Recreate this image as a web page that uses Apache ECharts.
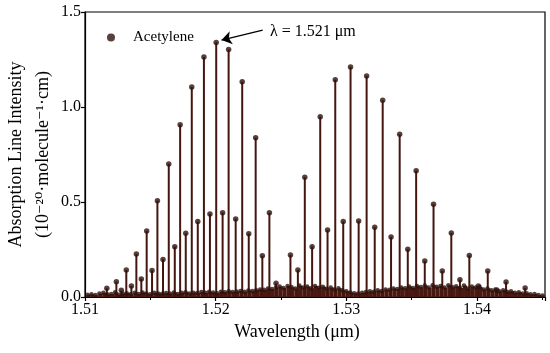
<!DOCTYPE html>
<html><head><meta charset="utf-8">
<script src="https://cdn.jsdelivr.net/npm/echarts@6/dist/echarts.min.js"></script>
<style>html,body{margin:0;padding:0;background:#fff}#c{width:550px;height:353px}</style>
</head><body><div id="c"></div>
<script>
// Strong lines (R and P branches) : wavelength (µm) and intensity (1e-20 molecule^-1 cm)
const mainWavelength = [
  1.51167,1.51240,1.51278,1.51316,1.51355,1.51393,1.51431,1.51472,1.51513,1.51554,
  1.51597,1.51641,1.51687,1.51728,1.51771,1.51817,1.51863,1.51910,1.51956,1.52004,
  1.52053,1.52099,1.52153,1.52203,1.52253,1.52306,1.52357,1.52411,1.52462,
  1.52572,1.52629,1.52682,1.52738,1.52800,1.52856,1.52915,1.52976,1.53032,1.53094,
  1.53155,1.53217,1.53278,1.53342,1.53408,1.53470,1.53534,1.53600,1.53667,1.53734,
  1.53803,1.53869,1.53941,1.54010,1.54082,1.54151,1.54222,1.54368
];
const mainIntensity = [
  0.046,0.080,0.035,0.142,0.058,0.226,0.095,0.347,0.140,0.507,
  0.198,0.700,0.265,0.907,0.335,1.105,0.397,1.263,0.437,1.340,
  0.444,1.302,0.410,1.133,0.333,0.838,0.217,0.444,0.072,
  0.221,0.142,0.630,0.265,0.949,0.353,1.144,0.397,1.211,0.400,
  1.163,0.367,1.035,0.316,0.856,0.251,0.665,0.189,0.488,0.137,
  0.337,0.091,0.219,0.058,0.137,0.037,0.079,0.047
];
// Weak (hot band) lines near the baseline
const weakWavelength = [
  1.5102,1.5105,1.5108,1.5111,1.5114,1.5117,1.5120,1.5123,1.5126,1.5129,
  1.5132,1.5135,1.5138,1.5141,1.5144,1.5147,1.5150,1.5153,1.5156,1.5159,
  1.5162,1.5165,1.5168,1.5171,1.5174,1.5177,1.5180,1.5183,1.5186,1.5189,
  1.5192,1.5195,1.5198,1.5201,1.5204,1.5207,1.5210,1.5213,1.5216,1.5219,
  1.5222,1.5225,1.5228,1.5231,1.5234,1.5237,1.5240,1.5243,1.5246,1.5249,
  1.5252,1.5255,1.5258,1.5261,1.5264,1.5267,1.5270,1.5273,1.5276,1.5279,
  1.5282,1.5285,1.5288,1.5291,1.5294,1.5297,1.5300,1.5303,1.5306,1.5309,
  1.5312,1.5315,1.5318,1.5321,1.5324,1.5327,1.5330,1.5333,1.5336,1.5339,
  1.5342,1.5345,1.5348,1.5351,1.5354,1.5357,1.5360,1.5363,1.5366,1.5369,
  1.5372,1.5375,1.5378,1.5381,1.5384,1.5387,1.5390,1.5393,1.5396,1.5399,
  1.5402,1.5405,1.5408,1.5411,1.5414,1.5417,1.5420,1.5423,1.5426,1.5429,
  1.5432,1.5435,1.5438,1.5441,1.5444,1.5447,1.5450
];
const weakIntensity = [
  0.012,0.015,0.010,0.018,0.022,0.014,0.016,0.025,0.012,0.018,
  0.020,0.014,0.022,0.016,0.024,0.018,0.015,0.022,0.019,0.017,
  0.021,0.018,0.024,0.016,0.022,0.025,0.019,0.023,0.021,0.026,
  0.022,0.027,0.024,0.020,0.028,0.025,0.030,0.026,0.029,0.032,
  0.028,0.034,0.031,0.036,0.040,0.038,0.045,0.042,0.050,0.055,
  0.048,0.058,0.052,0.045,0.060,0.050,0.055,0.046,0.058,0.049,
  0.054,0.044,0.050,0.040,0.046,0.035,0.030,0.024,0.020,0.018,
  0.022,0.026,0.030,0.028,0.035,0.032,0.040,0.038,0.045,0.042,
  0.050,0.046,0.055,0.048,0.058,0.052,0.060,0.050,0.062,0.054,
  0.058,0.050,0.062,0.052,0.056,0.048,0.060,0.045,0.055,0.050,
  0.052,0.040,0.045,0.035,0.040,0.030,0.036,0.028,0.030,0.022,
  0.025,0.018,0.020,0.014,0.016,0.010,0.008
];
const seriesName = 'Acetylene';
const annotationText = 'λ = 1.521 μm';
const arrowStart = [1.52360, 1.405];
const arrowEnd = [1.52045, 1.352];

const zip = (a, b) => a.map((x, i) => [x, b[i]]);
const mainData = zip(mainWavelength, mainIntensity);
const weakData = zip(weakWavelength, weakIntensity);

const serif = "'Liberation Serif','DejaVu Serif','Times New Roman',serif";
const stemColor = '#45160f';
const bandColor = '#4a1a12';
const dotColor = '#2e120d';

const chart = echarts.init(document.getElementById('c'), null, {renderer: 'canvas'});
chart.setOption({
  animation: false,
  backgroundColor: '#fff',
  textStyle: {fontFamily: serif},
  grid: {left: 85, right: 5, top: 12, bottom: 56, containLabel: false, outerBoundsMode: 'none',
         show: true, borderColor: '#000', borderWidth: 1.2, backgroundColor: 'transparent'},
  legend: {
    left: 102, top: 25, itemWidth: 8, itemHeight: 8, icon: 'circle',
    data: [seriesName],
    textStyle: {fontFamily: serif, fontSize: 15, color: '#000', padding: [0, 0, 0, 13]}
  },
  graphic: [{
    type: 'text', left: 270, top: 24,
    style: {text: annotationText, font: '16px ' + serif, fill: '#000'}
  }],
  xAxis: {
    type: 'value', min: 1.51, max: 1.5452, interval: 0.01,
    name: 'Wavelength (μm)', nameLocation: 'middle', nameGap: 26, nameMoveOverlap: false,
    nameTextStyle: {fontFamily: serif, fontSize: 18, color: '#000', padding: [0, 36, 0, 0]},
    axisLine: {onZero: false, lineStyle: {color: '#000', width: 1.2}},
    axisTick: {show: true, inside: false, length: 4, lineStyle: {color: '#000', width: 1.2}},
    minorTick: {show: true, splitNumber: 2, length: 3, lineStyle: {color: '#000', width: 1}},
    axisLabel: {fontFamily: serif, fontSize: 16, color: '#000', margin: 5, showMaxLabel: false,
                formatter: v => v.toFixed(2)},
    splitLine: {show: false}
  },
  yAxis: {
    type: 'value', min: 0, max: 1.5, interval: 0.5,
    name: 'Absorption Line Intensity\n(10⁻²⁰·molecule⁻¹·cm)', nameLocation: 'middle', nameGap: 28, nameRotate: 90,
    nameMoveOverlap: false,
    nameTextStyle: {fontFamily: serif, fontSize: 18, color: '#000', lineHeight: 27, align: 'center'},
    axisLine: {lineStyle: {color: '#000', width: 1.2}},
    axisTick: {show: true, inside: false, length: 4, lineStyle: {color: '#000', width: 1.2}},
    axisLabel: {fontFamily: serif, fontSize: 16, color: '#000', margin: 4, formatter: v => v.toFixed(1)},
    splitLine: {show: false}
  },
  series: [
    {
      type: 'bar', name: 'weakStems', data: weakData, barWidth: 4, barGap: '-100%',
      itemStyle: {color: bandColor}, silent: true, legendHoverLink: false
    },
    {
      type: 'bar', name: 'mainStems', data: mainData, barWidth: 2, barGap: '-100%',
      itemStyle: {color: stemColor}, silent: true, legendHoverLink: false
    },
    {
      type: 'scatter', name: 'weakDots', data: weakData, symbol: 'circle', symbolSize: 4.5,
      itemStyle: {color: dotColor}, silent: true
    },
    {
      type: 'scatter', name: seriesName, data: mainData, symbol: 'circle', symbolSize: 5.5,
      itemStyle: {color: dotColor}, silent: true,
      markLine: {
        silent: true, symbol: ['none', 'arrow'], symbolSize: 10,
        lineStyle: {color: '#000', width: 1.3, type: 'solid'},
        label: {show: false},
        data: [[{coord: arrowStart}, {coord: arrowEnd}]]
      }
    }
  ]
});
</script></body></html>
